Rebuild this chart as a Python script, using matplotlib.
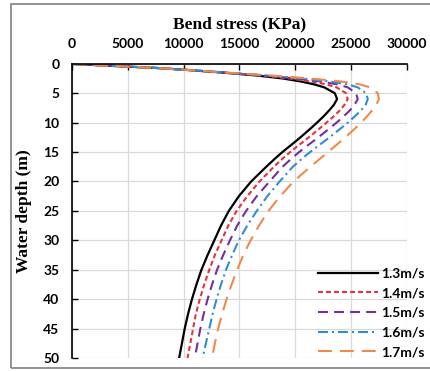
import matplotlib.pyplot as plt
from matplotlib.patches import Rectangle

# water depth (m)
depth = [0, 0.3, 0.7, 1, 1.5, 2, 2.5, 3, 3.5, 4, 5, 6, 7, 8, 9, 10, 11, 12, 13, 14, 15, 16,
         17.5, 20, 22.5, 25, 27.5, 30, 32.5, 35, 37.5, 40, 42.5, 45, 47.5, 50]

# bend stress (KPa) for each current speed
s13 = [0, 3000, 7500, 10000, 13600, 16600, 18900, 20500, 21700, 22600, 23550, 23750, 23450,
       23000, 22500, 21950, 21370, 20770, 20150, 19500, 18850, 18250, 17400, 16050, 14950,
       14050, 13350, 12750, 12150, 11600, 11150, 10750, 10400, 10100, 9850, 9600]
s14 = [0, 3000, 7500, 10000, 13700, 16900, 19500, 21400, 22800, 23700, 24550, 24700, 24400,
       23950, 23400, 22800, 22180, 21540, 20880, 20200, 19550, 18930, 18080, 16800, 15700,
       14750, 14000, 13400, 12800, 12300, 11850, 11450, 11100, 10850, 10600, 10350]
s15 = [0, 3000, 7500, 10000, 13800, 17200, 20100, 22300, 23800, 24700, 25450, 25600, 25300,
       24850, 24300, 23700, 23060, 22400, 21720, 21020, 20350, 19720, 18860, 17700, 16550,
       15600, 14800, 14150, 13550, 13000, 12550, 12150, 11800, 11500, 11250, 11000]
s16 = [0, 3000, 7500, 10000, 13900, 17500, 20700, 23100, 24700, 25600, 26350, 26500, 26300,
       25850, 25300, 24700, 24060, 23400, 22720, 22020, 21330, 20680, 19780, 18600, 17500,
       16550, 15700, 14950, 14350, 13800, 13350, 12950, 12600, 12300, 12000, 11700]
s17 = [0, 3000, 7500, 10000, 14000, 17900, 21400, 24100, 25800, 26700, 27400, 27500, 27250,
       26850, 26400, 25900, 25350, 24780, 24180, 23560, 22930, 22300, 21350, 19850, 18650,
       17600, 16750, 16000, 15350, 14800, 14300, 13850, 13450, 13100, 12800, 12550]
labels = ['1.3m/s', '1.4m/s', '1.5m/s', '1.6m/s', '1.7m/s']

fig = plt.figure(figsize=(4.31, 3.71), dpi=100)
ax = fig.add_axes([0.167, 0.035, 0.777, 0.793])

ax.plot(s13, depth, color='black', lw=1.6, label=labels[0])
ax.plot(s14, depth, color='#E2343F', lw=1.5, dashes=(2.4, 1.45), label=labels[1])
ax.plot(s15, depth, color='#7030A0', lw=1.5, dashes=(4.8, 2.9), label=labels[2])
ax.plot(s16, depth, color='#2E8FD0', lw=1.5, dashes=(4.8, 1.9, 1, 1.9), label=labels[3])
ax.plot(s17, depth, color='#F08A4B', lw=1.5, dashes=(6.7, 3.8), label=labels[4])

ax.set_xlim(0, 30000)
ax.set_ylim(50, 0)
ax.set_xticks(range(0, 30001, 5000))
ax.set_yticks(range(0, 51, 5))
ax.xaxis.tick_top()
ax.xaxis.set_label_position('top')
ax.tick_params(direction='in', length=4, width=1, labelsize=10)
ax.tick_params(axis='x', pad=10)
ax.tick_params(axis='y', pad=9)
for lab in ax.get_xticklabels() + ax.get_yticklabels():
    lab.set_fontweight('bold')
    lab.set_family('Lato')

ax.set_xlabel('Bend stress (KPa)', fontsize=12.5, fontweight='bold',
              family='Liberation Serif', labelpad=7)
ax.set_ylabel('Water depth (m)', fontsize=12.5, fontweight='bold',
              family='Liberation Serif', labelpad=8)

ax.grid(color='#d9d9d9', lw=0.9)
ax.set_axisbelow(True)
ax.spines['right'].set_visible(False)
ax.spines['bottom'].set_visible(False)
ax.spines['left'].set_linewidth(1.2)
ax.spines['top'].set_linewidth(1.2)

leg = ax.legend(loc='lower right', bbox_to_anchor=(1.054, 0.0), frameon=False,
                borderaxespad=0, borderpad=0,
                handlelength=4.3, handletextpad=0.25, labelspacing=0.55,
                prop={'family': 'Lato', 'weight': 'bold', 'size': 10})

# outer frame around the figure
fig.patches.append(Rectangle((11 / 431, 3 / 371), 1.0, 364 / 371, transform=fig.transFigure,
                             fill=False, edgecolor='#808080', lw=1.2))

plt.savefig('out.png', dpi=100)
